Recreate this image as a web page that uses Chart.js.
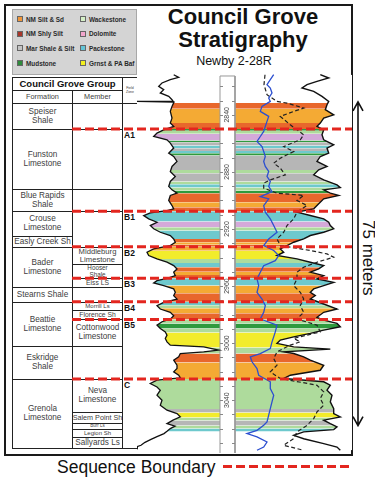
<!DOCTYPE html>
<html>
<head>
<meta charset="utf-8">
<script src="https://cdn.jsdelivr.net/npm/chart.js@4.4.1/dist/chart.umd.min.js"></script>
<style>
html, body { margin:0; padding:0; background:#fff; }
body { width:375px; height:477px; position:relative; overflow:hidden; font-family:Arial, "Liberation Sans", sans-serif; }
div { position:absolute; }
#frame { left:4px; top:4px; width:349px; height:452px; border:2px solid #1a1a1a; box-sizing:border-box; }
#legend { left:12px; top:9px; width:125px; height:66px; background:#d4d4d4; border:1px solid #a8a8a8; box-sizing:border-box;
	display:grid; grid-template-columns:63px 61px; grid-template-rows:repeat(4, 14.6px); grid-auto-flow:column; padding-top:2px; }
#legend .li { position:static; display:flex; align-items:center; font:bold 6.4px Arial, sans-serif; color:#2a2a2a; white-space:nowrap; overflow:hidden; }
#legend .li i { display:inline-block; width:4px; height:4px; border:1px solid #666; margin:0 3px 0 4px; box-sizing:content-box; flex:none; }
#title { left:143px; top:5px; width:200px; text-align:center; font:bold 22px/23px Arial, sans-serif; color:#111; }
#well { left:184px; top:55px; width:100px; text-align:center; font:12.5px/13px Arial, sans-serif; color:#111; }
#meters { left:358px; top:158px; width:20px; height:200px; writing-mode:vertical-rl; text-align:center; font:17px/20px Arial, sans-serif; color:#111; }
#seq { left:57px; top:458px; font:17.5px/18px Arial, sans-serif; color:#111; white-space:nowrap; }
#seqLine { left:223px; top:465px; width:129px; height:3px; background:repeating-linear-gradient(90deg, #e3261f 0 9px, transparent 9px 13px); }
.cell { box-sizing:border-box; border:1px solid #222; display:flex; align-items:center; justify-content:center;
	text-align:center; white-space:pre; line-height:1.05; color:#404040; overflow:hidden; }
.zone { font:bold 8.5px/9px Arial, sans-serif; color:#111; left:124px; }
canvas { position:absolute; left:0; top:0; z-index:5; }
</style>
</head>
<body>
<div id="frame"></div>
<div id="legend"></div>
<div id="title">Council Grove<br>Stratigraphy</div>
<div id="well">Newby 2-28R</div>
<div id="meters">75 meters</div>
<div id="seq">Sequence Boundary</div>
<div id="seqLine"></div>
<canvas id="c" width="375" height="477"></canvas>
<script>
// ---- data (depth in ft, curve values in track units 0..215) ----
const lithCodes = ['SS', 'SH', 'MS', 'MD', 'WK', 'DO', 'PK', 'GR'];
const lithNames = ['NM Silt & Sd', 'NM Shly Silt', 'Mar Shale & Silt', 'Mudstone', 'Wackestone', 'Dolomite', 'Packestone', 'Grnst & PA Baf'];

const bandTop = [2831.8, 2835.8, 2845.8, 2850.0, 2851.2, 2853.3, 2858.0, 2859.2, 2861.5, 2863.4, 2865.3, 2866.9, 2868.5, 2878.6,
	2880.9, 2886.7, 2888.6, 2891.0, 2893.3, 2894.9, 2901.3, 2904.8, 2907.5, 2914.8, 2918.8, 2921.1, 2927.0, 2929.3, 2931.0,
	2932.5, 2935.2, 2941.0, 2943.9, 2946.9, 2949.9, 2952.3, 2954.6, 2959.7, 2965.1, 2971.0, 2973.5, 2975.6, 2979.0, 2983.4,
	2986.2, 2989.7, 2992.5, 3003.0, 3007.2, 3013.5, 3025.2, 3046.2, 3048.6, 3052.1, 3054.2, 3057.7, 3059.8];
const bandLith = ['SH', 'SS', 'SH', 'MD', 'WK', 'DO', 'MD', 'MS', 'PK', 'MS', 'PK', 'MD', 'MS', 'WK',
	'MS', 'WK', 'PK', 'WK', 'MD', 'SH', 'SS', 'SH', 'PK', 'DO', 'WK', 'PK', 'SH', 'SS', 'SH',
	'SS', 'GR', 'WK', 'PK', 'SH', 'SS', 'SH', 'PK', 'SS', 'SH', 'PK', 'WK', 'SS', 'SH', 'WK',
	'MD', 'WK', 'GR', 'WK', 'SH', 'SS', 'WK', 'MS', 'GR', 'WK', 'MS', 'WK', 'PK'];
const bandBase = 3061.9;

const grCurve = [[2811.9,36.7],[2813.8,41.7],[2815.4,33.3],[2817.7,25],[2820.1,21.7],[2822.4,26.7],[2824.7,23.3],[2827.1,31.7],
	[2829.4,35],[2830.4,36],[2830.6,0],[2831.1,37],[2834.1,35],[2837.6,33.3],[2842.3,35],[2845.8,33.3],[2848.1,36.7],[2850.5,26.7],
	[2852.8,20],[2855.2,16.7],[2857.5,30],[2859.8,33.3],[2863.3,36.7],[2866.9,31.7],[2869.2,36.7],[2872.7,40],[2876.2,35],
	[2879.7,33.3],[2883.2,38.3],[2886.7,33.3],[2890.2,31.7],[2892.6,35],[2894.9,40],[2896.5,33.3],[2900.0,31.7],[2903.6,35],
	[2905.9,36.7],[2907.1,30],[2908.7,13.3],[2910.6,6.7],[2912.9,11.7],[2915.3,20],[2917.6,13.3],[2919.9,16.7],[2922.3,23.3],
	[2924.6,33.3],[2927.0,36.7],[2929.3,38.3],[2931.6,33.3],[2934.0,16.7],[2936.3,10],[2938.6,11.7],[2941.0,20],[2943.3,30],
	[2945.7,36.7],[2948.0,40],[2950.3,36.7],[2952.7,38.3],[2954.6,30],[2956.2,20],[2957.8,16.7],[2959.7,26.7],[2962.0,36.7],
	[2964.4,38.3],[2966.7,36.7],[2969.1,40],[2971.4,26.7],[2973.7,20],[2976.1,23.3],[2978.4,33.3],[2980.8,36.7],[2983.2,33.3],
	[2985.0,25],[2987.4,20],[2989.7,23.3],[2992.1,28.3],[2994.4,30],[2996.7,28.3],[2999.1,30],[3001.4,33.3],[3002.6,66.7],
	[3004.9,81.7],[3006.1,66.7],[3007.3,43.3],[3009.6,41.7],[3011.9,36.7],[3015.5,40],[3017.8,40],[3020.1,36.7],[3022.5,41.7],
	[3024.3,43.3],[3026.0,20],[3028.3,13.3],[3030.7,20],[3033.0,23.3],[3036.5,20],[3040.0,25],[3043.5,23.3],[3047.0,30],
	[3049.4,40],[3051.7,43.3],[3054.0,36],[3056.4,30],[3058.2,38],[3059.9,33.3],[3061.8,30],[3063.4,27],[3065.5,20],
	[3067.5,14],[3069.5,8],[3071.6,4],[3072.6,0],[3074.5,0]];

const resCurve = [[2811.9,183.3],[2814.2,191.7],[2816.6,180],[2818.9,170],[2821.2,165],[2823.6,176.7],[2827.1,185],[2830.6,191.7],
	[2832.9,190],[2836.4,188.3],[2840.0,196.7],[2842.3,186.7],[2845.8,183.3],[2848.1,180],[2850.5,186.7],[2854.0,185],[2857.5,186.7],
	[2861.0,196.7],[2863.3,190],[2866.9,191.7],[2869.2,183.3],[2872.7,180],[2876.2,190],[2878.5,181.7],[2882.1,176.7],[2885.6,186.7],
	[2889.1,200],[2891.0,203.3],[2892.6,186.7],[2894.9,193.3],[2896.5,201.7],[2898.9,186.7],[2902.4,181.7],[2905.9,176.7],[2908.2,160],
	[2910.6,173.3],[2912.9,186.7],[2915.3,191.7],[2917.6,193.3],[2919.9,196.7],[2922.3,186.7],[2924.6,173.3],[2927.0,166.7],
	[2929.3,156.7],[2931.6,150],[2934.0,143.3],[2936.3,146.7],[2938.6,140],[2941.0,160],[2943.3,173.3],[2945.7,186.7],[2948.0,181.7],
	[2950.3,173.3],[2952.7,186.7],[2955.0,180],[2957.4,196.7],[2959.7,186.7],[2962.0,176.7],[2964.4,173.3],[2966.7,178.3],
	[2969.1,173.3],[2972.6,186.7],[2976.1,200],[2978.4,186.7],[2981.9,180],[2983.9,186.7],[2986.2,200],[2988.5,203.3],[2990.9,186.7],
	[2993.2,173.3],[2995.6,156.7],[2997.9,143.3],[3000.2,140],[3002.6,156.7],[3004.2,193.3],[3006.1,146.7],[3007.3,156.7],
	[3009.6,166.7],[3011.9,173.3],[3015.5,186.7],[3019.0,183.3],[3022.5,153.3],[3024.8,146.7],[3027.1,186.7],[3029.5,193.3],
	[3033.0,190],[3036.5,195],[3041.2,193.3],[3045.9,196.7],[3049.4,196.7],[3051.7,203.3],[3054.0,186.7],[3056.4,193.3],
	[3058.7,200],[3060.6,196.7],[3062.2,166.7],[3064.6,156.7],[3067.0,166.7],[3070.4,186.7],[3072.8,200],[3075.1,203.3]];

const densCurve = [[2811.9,128],[2818.9,127],[2825.9,130],[2830.6,140],[2831.8,150],[2835.3,166.7],[2837.6,156.7],[2841.1,143.3],
	[2847.0,153.3],[2854.0,166.7],[2857.5,163.3],[2862.2,146.7],[2865.7,156.7],[2870.4,143.3],[2873.9,136.7],[2877.4,143.3],
	[2882.1,148.3],[2885.6,133.3],[2887.9,126.7],[2891.4,126.7],[2894.9,140],[2896.5,166.7],[2900.0,160],[2903.6,170],[2908.2,160],
	[2912.9,156.7],[2917.6,150],[2922.3,146.7],[2927.0,140],[2931.6,143.3],[2935.1,173.3],[2937.5,190],[2939.8,196.7],[2943.3,180],
	[2946.8,166.7],[2950.3,160],[2955.0,160],[2959.7,156.7],[2964.4,163.3],[2969.1,166.7],[2973.7,163.3],[2978.4,166.7],[2983.1,160],
	[2987.4,180],[2992.1,183.3],[2996.7,156.7],[2999.1,163.3],[3001.4,153.3],[3006.1,140],[3010.8,136.7],[3015.5,140],[3020.1,133.3],
	[3024.8,143.3],[3029.5,180],[3034.2,186.7],[3038.8,183.3],[3043.5,186.7],[3048.2,180],[3052.9,176.7],[3057.6,170],[3062.2,160],
	[3066.9,156.7],[3071.6,146.7],[3075.1,166.7]];

const blueCurve = [[2811.9,136.7],[2815.4,133.3],[2818.9,130],[2821.2,133.3],[2824.7,135],[2828.3,131.7],[2830.6,133.3],[2834.1,125],
	[2837.6,123.3],[2841.1,131.7],[2844.6,130],[2848.1,128.3],[2851.6,126.7],[2855.2,123.3],[2858.7,120],[2862.2,125],[2865.7,126.7],
	[2869.2,128.3],[2872.7,126.7],[2876.2,128.3],[2879.7,131.7],[2883.2,130],[2886.7,133.3],[2890.2,131.7],[2893.8,135],[2897.3,123.3],
	[2898.9,131.7],[2903.6,126.7],[2908.2,128.3],[2912.9,133.3],[2917.6,136.7],[2922.3,140],[2927.0,131.7],[2931.6,126.7],[2935.1,136.7],
	[2938.6,141.7],[2942.2,138.3],[2945.7,126.7],[2950.3,123.3],[2955.0,120],[2959.7,121.7],[2964.4,120],[2969.1,125],[2973.7,128.3],
	[2978.4,126.7],[2983.1,123.3],[2987.4,140],[2992.1,138.3],[2995.6,136.7],[2999.1,135],[3003.8,133.3],[3007.3,123.3],[3009.6,113.3],
	[3013.1,115],[3017.8,120],[3022.5,121.7],[3027.1,133.3],[3031.8,133.3],[3036.5,136.7],[3041.2,135],[3045.9,133.3],[3050.5,131.7],
	[3055.2,130],[3057.6,126.7],[3061.1,120],[3063.4,110],[3065.7,120],[3069.3,130],[3072.8,126.7],[3075.1,120]];

const depthLabels = [2840, 2880, 2920, 2960, 3000, 3040];
const seqBounds = [2850.0, 2907.5, 2932.5, 2954.6, 2971.0, 2983.4, 3025.2];
const zoneNames = ['A1', 'B1', 'B2', 'B3', 'B4', 'B5', 'C'];
const arrowSpan = [2830.9, 3057.8];

const formationNames = ['Speiser\nShale', 'Funston\nLimestone', 'Blue Rapids\nShale', 'Crouse\nLimestone', 'Easly Creek Sh',
	'Bader\nLimestone', 'Stearns Shale', 'Beattie\nLimestone', 'Eskridge\nShale', 'Grenola\nLimestone'];
const formationTop = [2831.8, 2850.0, 2892.1, 2907.5, 2925.1, 2932.5, 2960.9, 2971.0, 3002.3, 3025.2];
const memberNames = ['', '', '', '', 'Middleburg\nLimestone', 'Hooser\nShale', 'Eiss LS', '', 'Morrill Ls', 'Florence Sh',
	'Cottonwood\nLimestone', '', 'Neva\nLimestone', 'Salem Point Sh', 'Burr Ls', 'Legion Sh', 'Sallyards Ls'];
const memberTop = [2831.8, 2850.0, 2892.1, 2907.5, 2932.5, 2944.7, 2954.6, 2960.9, 2971.0, 2977.1, 2983.4, 3002.3, 3025.2,
	3048.6, 3055.9, 3060.4, 3065.5];
const tableBase = 3073.2;

// ---- styles / layout ----
const lithColor = { SS:'#f4aa34', SH:'#e8672c', MS:'#b6b6b6', MD:'#2f9a3e', WK:'#aedb9c', DO:'#d4a9d9', PK:'#6ec9cd', GR:'#f2ec2c' };
const legendColor = { SS:'#f0963a', SH:'#a9362a', MS:'#c4c4c4', MD:'#2f8c3c', WK:'#d5efc6', DO:'#f2a7cd', PK:'#62c4d6', GR:'#f3ef1e' };
const colL = 83, colR = 98, colTop = 2812.8, trackMax = 215;
const tableX = [12, 72, 122, 137];

// legend
const lg = document.getElementById('legend');
lithCodes.forEach((k, i) => {
	const d = document.createElement('span');
	d.className = 'li';
	d.innerHTML = '<i style="background:' + legendColor[k] + '"></i>' + lithNames[i].replace('&', '&amp;');
	lg.appendChild(d);
});

const datasets = [];
bandTop.forEach((t, i) => {
	const b = i + 1 < bandTop.length ? bandTop[i + 1] : bandBase;
	datasets.push({ data:[{x:0, y:t}, {x:0, y:b}], fill:{value:trackMax}, backgroundColor:lithColor[bandLith[i]],
		borderColor:'transparent', borderWidth:0, order:10 });
});
const pts = a => a.map(p => ({x:p[1], y:p[0]}));
datasets.push({ data:[{x:colL, y:3077}, {x:colL, y:colTop}, {x:colR, y:colTop}, {x:colR, y:3077}], fill:'shape',
	backgroundColor:'#fff', borderColor:'#999', borderWidth:1, order:5 });
datasets.push({ data:pts(grCurve), fill:{value:0}, backgroundColor:'#fff', borderColor:'#111', borderWidth:1.3, order:3 });
datasets.push({ data:pts(resCurve), fill:{value:trackMax}, backgroundColor:'#fff', borderColor:'#111', borderWidth:1.4, order:3 });
datasets.push({ data:pts(densCurve), fill:false, borderColor:'#222', borderWidth:1.2, borderDash:[4, 2.5], order:1 });
datasets.push({ data:pts(blueCurve), fill:false, borderColor:'#2c4fd0', borderWidth:1.3, order:0 });
datasets.forEach(d => { d.indexAxis = 'y'; d.pointRadius = 0; d.tension = 0; });

const overlay = {
	id:'overlay',
	afterDatasetsDraw(c) {
		const {ctx, scales:{x, y}} = c;
		const xl = x.getPixelForValue(colL), xr = x.getPixelForValue(colR);
		ctx.save();
		ctx.strokeStyle = '#888'; ctx.lineWidth = 1;
		for (let d = 2820; d <= 3070; d += 10) {
			const p = Math.round(y.getPixelForValue(d)) + 0.5;
			ctx.beginPath(); ctx.moveTo(xl, p); ctx.lineTo(xl + 3, p); ctx.moveTo(xr, p); ctx.lineTo(xr - 3, p); ctx.stroke();
		}
		ctx.fillStyle = '#444'; ctx.font = '7px Arial'; ctx.textAlign = 'center'; ctx.textBaseline = 'middle';
		depthLabels.forEach(d => {
			ctx.save(); ctx.translate((xl + xr) / 2, y.getPixelForValue(d)); ctx.rotate(-Math.PI / 2);
			ctx.fillText(String(d), 0, 0); ctx.restore();
		});
		ctx.restore();
	},
	afterDraw(c) {
		const {ctx, chartArea:a, scales:{y}} = c;
		ctx.save();
		ctx.strokeStyle = '#e3261f'; ctx.lineWidth = 3; ctx.setLineDash([9, 4]);
		seqBounds.forEach(d => {
			const p = y.getPixelForValue(d);
			ctx.beginPath(); ctx.moveTo(tableX[1], p); ctx.lineTo(a.right, p); ctx.stroke();
		});
		// 75 m arrow
		const ax = a.right + 6, t = y.getPixelForValue(arrowSpan[0]), b = y.getPixelForValue(arrowSpan[1]);
		ctx.setLineDash([]); ctx.strokeStyle = '#111'; ctx.lineWidth = 1.6;
		ctx.beginPath(); ctx.moveTo(ax, t); ctx.lineTo(ax, b);
		ctx.moveTo(ax - 5, t + 9); ctx.lineTo(ax, t); ctx.lineTo(ax + 5, t + 9);
		ctx.moveTo(ax - 5, b - 9); ctx.lineTo(ax, b); ctx.lineTo(ax + 5, b - 9);
		ctx.stroke();
		ctx.restore();
	}
};

const chart = new Chart(document.getElementById('c'), {
	type:'line',
	data:{ datasets },
	options:{
		indexAxis:'y',
		responsive:false,
		animation:false,
		events:[],
		devicePixelRatio:1,
		layout:{ padding:{ left:137, right:23, top:72, bottom:24 } },
		scales:{
			x:{ type:'linear', min:0, max:trackMax, display:false },
			y:{ type:'linear', min:2810, max:3077, reverse:true, display:false }
		},
		plugins:{ legend:{ display:false }, tooltip:{ enabled:false } }
	},
	plugins:[overlay]
});

// ---- table, rows placed on the depth scale ----
const py = d => Math.round(chart.scales.y.getPixelForValue(d));
function cell(x0, x1, y0, y1, txt, fs, bold) {
	const e = document.createElement('div');
	e.className = 'cell';
	e.style.cssText = 'left:' + x0 + 'px;top:' + y0 + 'px;width:' + (x1 - x0 + 1) + 'px;height:' + (y1 - y0 + 1) + 'px;' +
		(bold ? 'font-weight:bold;color:#111;' : '');
	e.textContent = txt;
	document.body.appendChild(e);
	if (!txt) return;
	const lines = txt.split('\n').length;
	if (!fs) fs = Math.min(8.2, lines > 1 ? (y1 - y0) * 0.45 : (y1 - y0) * 0.75);
	e.style.fontSize = fs + 'px';
	while (e.scrollWidth > e.clientWidth && fs > 4) { fs -= 0.25; e.style.fontSize = fs + 'px'; }
}
const bodyTop = py(formationTop[0]);
cell(tableX[0], tableX[2], 77, 90, 'Council Grove Group', 9.5, true);
cell(tableX[2], tableX[3], 77, bodyTop, 'Field\nZone', 3.5);
cell(tableX[0], tableX[1], 90, bodyTop, 'Formation', 7.3);
cell(tableX[1], tableX[2], 90, bodyTop, 'Member', 7.3);
formationNames.forEach((n, i) => {
	const b = i + 1 < formationTop.length ? formationTop[i + 1] : tableBase;
	cell(tableX[0], tableX[1], py(formationTop[i]), py(b), n);
});
memberNames.forEach((n, i) => {
	const b = i + 1 < memberTop.length ? memberTop[i + 1] : tableBase;
	cell(tableX[1], tableX[2], py(memberTop[i]), py(b), n);
});
cell(tableX[2], tableX[3], bodyTop, py(tableBase), '');
zoneNames.forEach((z, i) => {
	const e = document.createElement('div');
	e.className = 'zone';
	e.style.top = (py(seqBounds[i]) + 2) + 'px';
	e.textContent = z;
	document.body.appendChild(e);
});
</script>
</body>
</html>
